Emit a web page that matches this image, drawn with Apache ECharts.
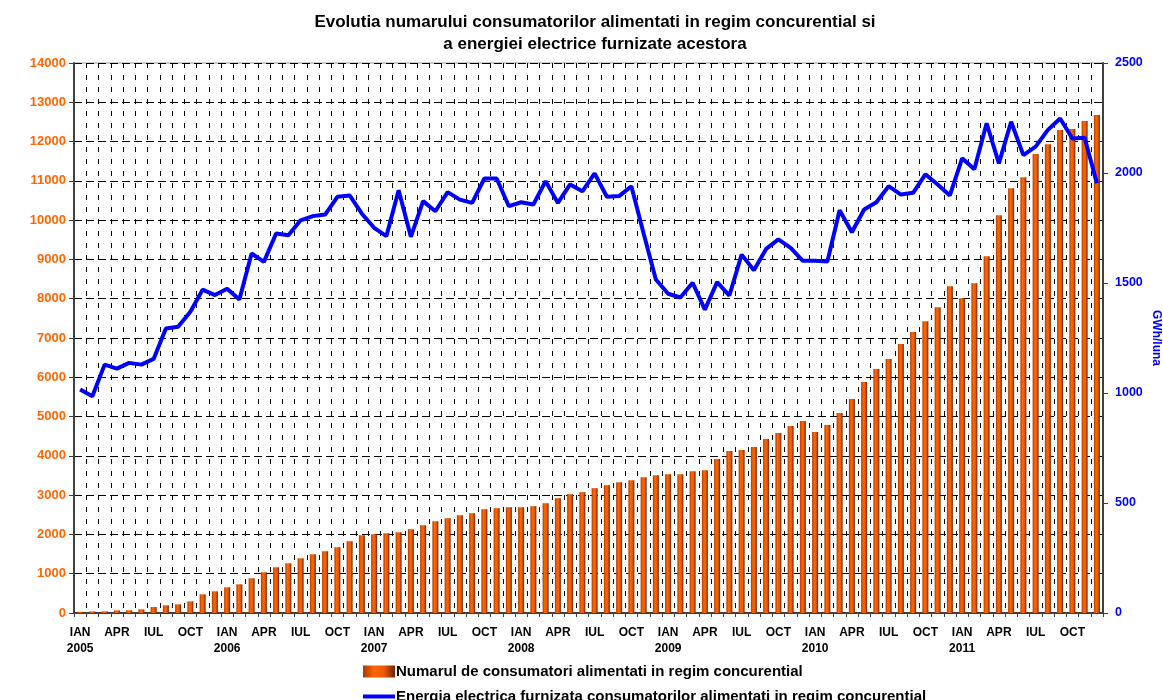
<!DOCTYPE html>
<html>
<head>
<meta charset="utf-8">
<script src="https://cdn.jsdelivr.net/npm/echarts@6/dist/echarts.min.js"></script>
<style>
  html, body { margin: 0; padding: 0; background: #fff; }
  #chart { width: 1163px; height: 700px; }
</style>
</head>
<body>
<div id="chart"></div>
<script>
// Month abbreviations (Romanian) and years covered by the series
const months = ['IAN', 'FEB', 'MAR', 'APR', 'MAI', 'IUN', 'IUL', 'AUG', 'SEP', 'OCT', 'NOI', 'DEC'];
const years = [2005, 2006, 2007, 2008, 2009, 2010, 2011];

// Number of consumers supplied under competitive regime, monthly
const consumers = [
  30, 42, 42, 68, 68, 93, 153, 195, 221, 297, 476, 552,
  654, 731, 884, 1037, 1164, 1266, 1393, 1495, 1572, 1674, 1827, 1980,
  2005, 2030, 2056, 2133, 2234, 2336, 2413, 2489, 2540, 2642, 2668, 2693,
  2693, 2719, 2795, 2923, 3025, 3076, 3178, 3254, 3331, 3382, 3458, 3509,
  3534, 3534, 3611, 3636, 3917, 4121, 4146, 4223, 4426, 4579, 4758, 4885,
  4605, 4783, 5089, 5446, 5879, 6211, 6466, 6848, 7154, 7424, 7781, 8316,
  8010, 8392, 9081, 10126, 10814, 11094, 11681, 11935, 12292, 12318, 12522, 12675
];

// Electricity supplied to those consumers, GWh per month
const energy = [
  1016, 985, 1129, 1111, 1137, 1129, 1155, 1293, 1301, 1369, 1470, 1445,
  1474, 1425, 1634, 1596, 1725, 1717, 1785, 1804, 1811, 1892, 1898, 1815,
  1751, 1713, 1922, 1710, 1872, 1826, 1913, 1879, 1864, 1975, 1975, 1849,
  1867, 1857, 1963, 1864, 1948, 1917, 1998, 1892, 1895, 1940, 1725, 1516,
  1451, 1434, 1501, 1379, 1504, 1443, 1629, 1558, 1655, 1698, 1660, 1601,
  1601, 1598, 1831, 1731, 1834, 1867, 1940, 1902, 1910, 1994, 1948, 1898,
  2067, 2017, 2226, 2044, 2233, 2081, 2120, 2196, 2248, 2157, 2160, 1953
];

const seriesNames = [
  'Numarul de consumatori alimentati in regim concurential',
  'Energia electrica furnizata consumatorilor alimentati in regim concurential'
];

// One category per month: "IAN 2005", "FEB 2005", ...
const categories = [];
years.forEach(y => months.forEach(m => categories.push(m + ' ' + y)));

const FONT = '"Liberation Sans", Arial, sans-serif';
const plain = v => String(v);

const chart = echarts.init(document.getElementById('chart'), null, { renderer: 'canvas' });

chart.setOption({
  animation: false,
  backgroundColor: '#ffffff',
  title: {
    text: 'Evolutia numarului consumatorilor alimentati in regim concurential si\na energiei electrice furnizate acestora',
    left: 590,
    textAlign: 'center',
    top: 6,
    textStyle: { fontFamily: FONT, fontSize: 17, fontWeight: 'bold', color: '#000', lineHeight: 22 }
  },
  grid: {
    left: 74, right: 60, top: 63, bottom: 87,
    containLabel: false,
    outerBoundsMode: 'none',
    show: true, borderColor: '#9a9a9a', borderWidth: 1, backgroundColor: 'transparent'
  },
  legend: {
    orient: 'vertical',
    left: 363,
    top: 664,
    padding: 0,
    height: 100,
    itemWidth: 32,
    itemHeight: 12,
    itemGap: 10,
    symbolKeepAspect: true,
    data: [
      { name: seriesNames[0], icon: 'rect' },
      { name: seriesNames[1], icon: 'path://M0,0 L32,0 L32,4 L0,4 Z' }
    ],
    textStyle: { fontFamily: FONT, fontSize: 15, lineHeight: 13, fontWeight: 'bold', color: '#000', padding: [0, 0, 0, -4] }
  },
  xAxis: {
    type: 'category',
    data: categories,
    boundaryGap: true,
    axisLine: { lineStyle: { color: '#404040', width: 2 } },
    axisTick: { show: true, interval: 0, length: 4, lineStyle: { color: '#404040', width: 1 } },
    axisLabel: {
      interval: 2,
      margin: 12,
      fontFamily: FONT,
      fontSize: 12,
      fontWeight: 'bold',
      color: '#000',
      lineHeight: 16,
      formatter: v => {
        const [m, y] = v.split(' ');
        return m === 'IAN' ? m + '\n' + y : m;
      }
    },
    splitLine: {
      show: true,
      interval: 0,
      lineStyle: { color: '#000', width: 1, type: [5, 7] }
    }
  },
  yAxis: [
    {
      type: 'value',
      min: 0, max: 14000, interval: 1000,
      position: 'left',
      name: 'Numar consumatori',
      nameLocation: 'middle',
      nameGap: 56,
      nameRotate: 90,
      nameMoveOverlap: false,
      nameTextStyle: { fontFamily: FONT, fontSize: 12, fontWeight: 'bold', color: '#FF6600', padding: [0, 0, 30, 0] },
      axisLine: { show: true, lineStyle: { color: '#404040', width: 2 } },
      axisTick: { show: true, length: 5, lineStyle: { color: '#404040' } },
      axisLabel: { fontFamily: FONT, fontSize: 13, fontWeight: 'bold', color: '#FF6600', margin: 8, formatter: plain },
      splitLine: { show: true, lineStyle: { color: '#000', width: 1, type: [8, 4] } }
    },
    {
      type: 'value',
      min: 0, max: 2500, interval: 500,
      position: 'right',
      name: 'GWh/luna',
      nameLocation: 'middle',
      nameGap: 47,
      nameRotate: -90,
      nameMoveOverlap: false,
      nameTextStyle: { fontFamily: FONT, fontSize: 12, fontWeight: 'bold', color: '#0000FF' },
      axisLine: { show: true, lineStyle: { color: '#404040', width: 2 } },
      axisTick: { show: true, length: 5, lineStyle: { color: '#404040' } },
      axisLabel: { fontFamily: FONT, fontSize: 12.5, fontWeight: 'bold', color: '#0000FF', margin: 12, formatter: plain },
      splitLine: { show: false }
    }
  ],
  series: [
    {
      name: seriesNames[0],
      type: 'bar',
      yAxisIndex: 0,
      data: consumers,
      barWidth: 6,
      itemStyle: {
        color: new echarts.graphic.LinearGradient(0, 0, 1, 0, [
          { offset: 0, color: '#A83A00' },
          { offset: 0.35, color: '#FF6600' },
          { offset: 0.65, color: '#F05A00' },
          { offset: 1, color: '#6A2400' }
        ])
      }
    },
    {
      name: seriesNames[1],
      type: 'line',
      yAxisIndex: 1,
      data: energy,
      symbol: 'none',
      smooth: false,
      lineStyle: { color: '#0000FF', width: 4 },
      itemStyle: { color: '#0000FF' },
      z: 5
    }
  ]
});
</script>
</body>
</html>
